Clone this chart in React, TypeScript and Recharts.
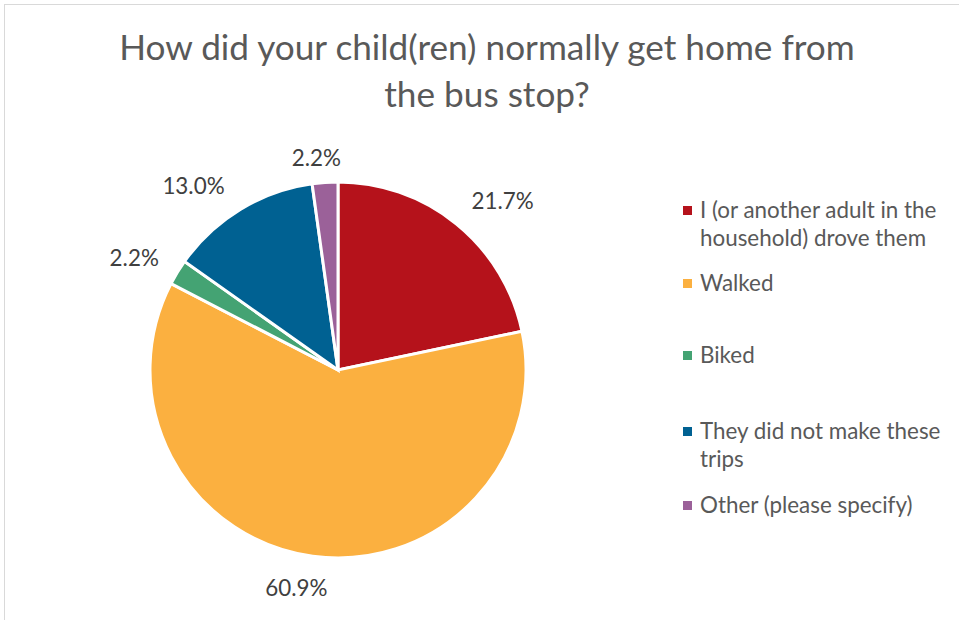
import React from 'react';
import { PieChart, Pie, Cell } from 'recharts';

const categories = [
  'I (or another adult in the household) drove them',
  'Walked',
  'Biked',
  'They did not make these trips',
  'Other (please specify)',
];
const percentages = [21.7, 60.9, 2.2, 13.0, 2.2];
const colors = ['#B5121B', '#FBB040', '#44A373', '#006192', '#9B6199'];
const titleLines = ['How did your child(ren) normally get home from', 'the bus stop?'];

// label nudges (layout only)
const labelNudges = [
  { dx: 21, dy: 8 },
  { dx: -11, dy: -8 },
  { dx: -9, dy: 6 },
  { dx: -26, dy: 10 },
  { dx: -6, dy: 15 },
];
// legend vertical gaps before each item (layout only)
const legendGaps = [0, 17, 44, 48, 18];

const data = categories.map((name, i) => ({ name, value: percentages[i] }));

const FONT = 'Lato, "Open Sans", sans-serif';
const RAD = Math.PI / 180;

const renderLabel = (props: any) => {
  const { cx, cy, midAngle, outerRadius, value, index } = props;
  const r = outerRadius + 40;
  const x = cx + r * Math.cos(-midAngle * RAD) + labelNudges[index].dx;
  const y = cy + r * Math.sin(-midAngle * RAD) + labelNudges[index].dy;
  return (
    <text
      x={x}
      y={y}
      textAnchor="middle"
      dominantBaseline="central"
      fill="#404040"
      fontSize={22.4}
      fontFamily={FONT}
    >
      {Number(value).toFixed(1)}%
    </text>
  );
};

export default function App() {
  return (
    <div
      style={{
        position: 'absolute',
        left: 0,
        top: 0,
        width: 959,
        height: 620,
        overflow: 'hidden',
        background: '#fff',
      }}
    >
      <div
        style={{
          position: 'absolute',
          left: 4,
          top: 4,
          width: 1100,
          height: 800,
          border: '1.5px solid #d9d9d9',
          boxSizing: 'border-box',
        }}
      />
      <div
        style={{
          position: 'absolute',
          left: 0,
          top: 23,
          width: 974,
          textAlign: 'center',
          fontFamily: FONT,
          fontSize: 35.2,
          color: '#595959',
          lineHeight: '47px',
        }}
      >
        {titleLines.map((t, i) => (
          <div key={i}>{t}</div>
        ))}
      </div>
      <div style={{ position: 'absolute', left: 0, top: 0 }}>
        <PieChart width={959} height={620} margin={{ top: 0, right: 0, bottom: 0, left: 0 }}>
          <Pie
            data={data}
            dataKey="value"
            nameKey="name"
            cx={338}
            cy={370}
            outerRadius={188}
            startAngle={90}
            endAngle={-270}
            stroke="#ffffff"
            strokeWidth={3}
            label={renderLabel}
            labelLine={false}
            isAnimationActive={false}
          >
            {data.map((d, i) => (
              <Cell key={d.name} fill={colors[i]} />
            ))}
          </Pie>
        </PieChart>
      </div>
      <div
        style={{
          position: 'absolute',
          left: 683,
          top: 196,
          width: 270,
          fontFamily: FONT,
          fontSize: 22.4,
          color: '#595959',
          lineHeight: '28px',
        }}
      >
        {categories.map((name, i) => (
          <div key={name} style={{ display: 'flex', alignItems: 'flex-start', marginTop: legendGaps[i] }}>
            <div
              style={{
                width: 9,
                height: 9,
                background: colors[i],
                marginTop: 10,
                marginRight: 8,
                flex: '0 0 auto',
              }}
            />
            <div style={{ maxWidth: 258 }}>{name}</div>
          </div>
        ))}
      </div>
    </div>
  );
}
